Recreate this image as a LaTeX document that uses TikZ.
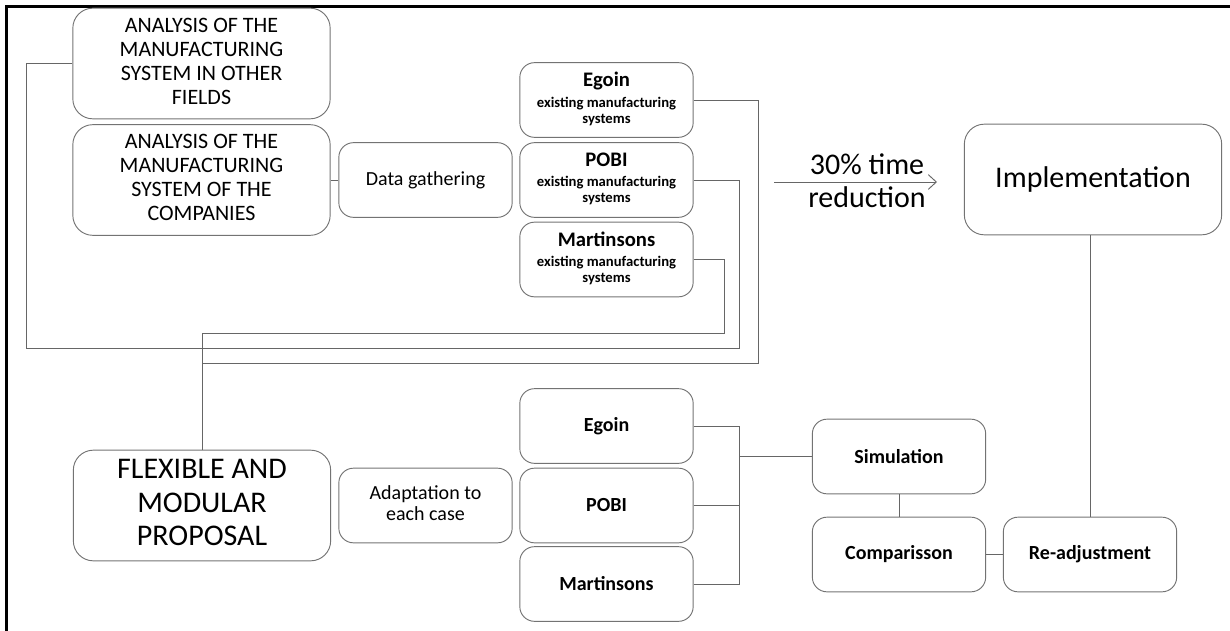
\documentclass[tikz,border=0pt]{standalone}
\usepackage{fontspec}
\setmainfont{Carlito}
\usetikzlibrary{calc,positioning,arrows.meta}
\newcommand{\boxhuge}{\fontsize{22.5}{25}\selectfont}
\newcommand{\boxmid}{\fontsize{16.5}{18}\selectfont}
\newcommand{\boxstep}{\fontsize{15}{16}\selectfont}
\newcommand{\boxtiny}{\fontsize{11}{12}\selectfont}
\tikzset{
   wide stage/.style={ rectangle, draw=black!55, line width=0.7pt, minimum width=193pt, minimum height=83pt, text centered, rounded corners=15pt, inner sep=2pt},
   stage/.style={ rectangle, draw=black!55, line width=0.7pt, minimum width=130pt, minimum height=56pt, text centered, rounded corners=11pt, inner sep=2pt},
   flow line/.style={ draw=black!60, line width=0.7pt},
   page edge/.style={ draw=black, line width=2.25pt},
   >={Straight Barb[length=6pt,width=11pt]}
}

\begin{document}
\begin{tikzpicture}[x=0.75pt,y=-0.75pt]
  \useasboundingbox (0,0) rectangle (1230,631);
  \draw[page edge] (1230,6.5) -- (6.5,6.5) -- (6.5,631);

  % analysis and data gathering
  \node[wide stage] at (201.5,63.5) (other fields) {\boxmid\begin{tabular}{@{}c@{}}ANALYSIS OF THE\\MANUFACTURING\\SYSTEM IN OTHER\\FIELDS\end{tabular}};
  \node[wide stage] at (201.5,180)  (companies)    {\boxmid\begin{tabular}{@{}c@{}}ANALYSIS OF THE\\MANUFACTURING\\SYSTEM OF THE\\COMPANIES\end{tabular}};
  \node[stage]      at (425.5,180)  (data)         {\boxstep Data gathering};

  \node[stage] at (606.5,100)   (egoin ex) {\boxtiny\bfseries\begin{tabular}{@{}c@{}}{\fontsize{15.5}{16}\selectfont Egoin}\\[3.5pt]existing manufacturing\\systems\end{tabular}};
  \node[stage] at (606.5,180)   (pobi ex)  {\boxtiny\bfseries\begin{tabular}{@{}c@{}}{\fontsize{15.5}{16}\selectfont POBI}\\[3.5pt]existing manufacturing\\systems\end{tabular}};
  \node[stage] at (606.5,259.5) (mart ex)  {\boxtiny\bfseries\begin{tabular}{@{}c@{}}{\fontsize{15.5}{16}\selectfont Martinsons}\\[3.5pt]existing manufacturing\\systems\end{tabular}};

  \node[wide stage] at (1093,179.5) (implementation) {\boxhuge Implementation};

  \node[coordinate] at (774,182) (gain start) {};
  \node[coordinate] at (937,182) (gain end)   {};
  \node[inner sep=0pt] at (867,184) (gain) {\boxhuge\begin{tabular}{@{}c@{}}30\% time\\reduction\end{tabular}};

  % proposal and adaptation
  \node[wide stage] at (202,505.5) (proposal) {\boxhuge\begin{tabular}{@{}c@{}}FLEXIBLE AND\\MODULAR\\PROPOSAL\end{tabular}};
  \node[stage] at (425.5,505.5) (adaptation) {\boxstep\begin{tabular}{@{}c@{}}Adaptation to\\each case\end{tabular}};

  \node[stage] at (606.5,426)   (egoin) {\boxstep\bfseries Egoin};
  \node[stage] at (606.5,505.5) (pobi)  {\boxstep\bfseries POBI};
  \node[stage] at (606.5,584)   (mart)  {\boxstep\bfseries Martinsons};

  \node[stage] at (899,456.5)  (simulation) {\boxstep\bfseries Simulation};
  \node[stage] at (899,554.5)  (comparison) {\boxstep\bfseries Comparisson};
  \node[stage] at (1090,554.5) (readjust)   {\boxstep\bfseries Re-adjustment};

  \node[coordinate] at (26,348)    (loop corner)  {};
  \node[coordinate] at (739,348)   (pobi corner)  {};
  \node[coordinate] at (758,363)   (egoin corner) {};
  \node[coordinate] at (202,363)   (egoin end)    {};
  \node[coordinate] at (724,333)   (mart corner)  {};
  \node[coordinate] at (202,333)   (join point)   {};
  \node[coordinate] at (739,456.5) (bracket)      {};

  \draw[flow line] (companies) -- (data);

  \draw[flow line] (other fields.west) -| (loop corner) -- (pobi corner) |- (pobi ex.east);
  \draw[flow line] (egoin ex.east) -| (egoin corner) -- (egoin end);
  \draw[flow line] (mart ex.east) -| (mart corner) -- (join point) -- (proposal.north);

  \draw[flow line,->] (gain start) -- (gain end);

  \draw[flow line] (egoin.east) -| (bracket);
  \draw[flow line] (mart.east) -| (bracket);
  \draw[flow line] (pobi.east) -- (pobi.east -| bracket);
  \draw[flow line] (bracket) -- (simulation.west);

  \draw[flow line] (simulation) -- (comparison);
  \draw[flow line] (comparison) -- (readjust);
  \draw[flow line] (readjust.north) -- (readjust.north |- implementation.south);

\end{tikzpicture}
\end{document}
